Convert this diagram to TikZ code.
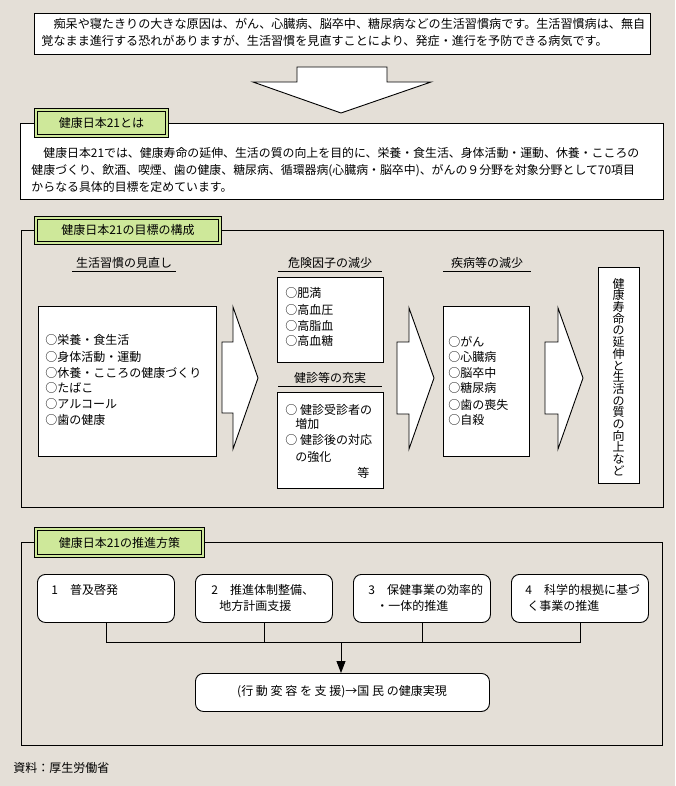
\documentclass[tikz,border=0pt]{standalone}
\usepackage{fontspec}
\setmainfont{Noto Sans CJK JP}
\usetikzlibrary{arrows.meta}
\definecolor{bg}{RGB}{228,223,215}
\definecolor{lbl}{RGB}{206,232,154}
\begin{document}
\begin{tikzpicture}[x=1pt,y=-1pt,line width=0.9pt,
  every node/.style={inner sep=0pt},
  jp/.style={font=\fontsize{12}{14}\selectfont},
  jpw/.style={font=\fontsize{12.1}{14}\selectfont},
  jps/.style={font=\fontsize{11.9}{14}\selectfont},
  tx/.style={jp, anchor=base west},
  txw/.style={jpw, anchor=base west},
  txs/.style={jps, anchor=base west},
  txc/.style={jp, anchor=base},
  wbox/.style={draw, fill=white, anchor=north west},
  obox/.style={draw, anchor=north west},
  lbox/.style={draw, fill=lbl, anchor=north west, jp},
  rbox/.style={draw, fill=white, rounded corners=8pt, anchor=north west},
  blk/.style={draw, fill=white, line join=miter},
  conn/.style={draw, line width=0.9pt},
  arr/.style={conn, -{Triangle[width=9pt,length=12pt]}}
]
\fill[bg] (0,0) rectangle (675,786);
\useasboundingbox (0,0) rectangle (675,786);

% ---------- top box ----------
\node[wbox, minimum width=616pt, minimum height=41pt] (top) at (34,13) {};
\node[txw] (top1) at (41,28.5) {　痴呆や寝たきりの大きな原因は、がん、心臓病、脳卒中、糖尿病などの生活習慣病です。生活習慣病は、無自};
\node[txw] (top2) at (41,45.5) {覚なまま進行する恐れがありますが、生活習慣を見直すことにより、発症・進行を予防できる病気です。};

% big down arrow
\draw[blk] (297,67) -- (387,67) -- (387,82) -- (431,82) -- (341,113) -- (253,82) -- (297,82) -- cycle;

% ---------- section 1 ----------
\node[wbox, minimum width=643pt, minimum height=76pt] (sec1) at (20,123) {};
\node[lbox, minimum width=134pt, minimum height=29pt] (lab1) at (34,108) {健康日本21とは};
\draw ([shift={(3,3)}]lab1.north west) rectangle ([shift={(-3,-3)}]lab1.south east);
\node[txs] (s1a) at (31,157.5) {　健康日本21では、健康寿命の延伸、生活の質の向上を目的に、栄養・食生活、身体活動・運動、休養・こころの};
\node[txs] (s1b) at (31,174.5) {健康づくり、飲酒、喫煙、歯の健康、糖尿病、循環器病(心臓病・脳卒中)、がんの９分野を対象分野として70項目};
\node[txs] (s1c) at (31,191.5) {からなる具体的目標を定めています。};

% ---------- section 2 ----------
\node[obox, minimum width=642pt, minimum height=277pt] (sec2) at (21,230) {};
\node[lbox, minimum width=187pt, minimum height=28pt] (lab2) at (34,216) {健康日本21の目標の構成};
\draw ([shift={(3,3)}]lab2.north west) rectangle ([shift={(-3,-3)}]lab2.south east);

% headers
\node[txc] (h1) at (124,267.5) {生活習慣の見直し};
\draw (72,271) -- (176,271);
\node[txc] (h2) at (330,267.5) {危険因子の減少};
\draw (278,271) -- (382,271);
\node[txc] (h3) at (487,267.5) {疾病等の減少};
\draw (443,271) -- (531,271);
\node[txc] (h4) at (330,382.5) {健診等の充実};
\draw (278,386) -- (382,386);

% box 1
\node[wbox, minimum width=178pt, minimum height=150pt] (b1) at (38,306) {};
\node[tx] (b1a) at (45,344.5) {○栄養・食生活};
\node[tx] (b1b) at (45,361.5) {○身体活動・運動};
\node[tx] (b1c) at (45,377.5) {○休養・こころの健康づくり};
\node[tx] (b1d) at (45,392.5) {○たばこ};
\node[tx] (b1e) at (45,408.5) {○アルコール};
\node[tx] (b1f) at (45,424.5) {○歯の健康};

% risk box
\node[wbox, minimum width=106pt, minimum height=85pt] (risk) at (277,277) {};
\node[tx] (ra) at (285,297.5) {○肥満};
\node[tx] (rb) at (285,314.5) {○高血圧};
\node[tx] (rc) at (285,330.5) {○高脂血};
\node[tx] (rd) at (285,345.5) {○高血糖};

% check box
\node[wbox, minimum width=106pt, minimum height=96pt] (chk) at (277,392) {};
\node[tx] (ca) at (285,414.5) {○ 健診受診者の};
\node[tx] (cb) at (295,428.5) {増加};
\node[tx] (cc) at (285,444.5) {○ 健診後の対応};
\node[tx] (cd) at (295,461.5) {の強化};
\node[tx] (ce) at (357,477.5) {等};

% disease box
\node[wbox, minimum width=86pt, minimum height=150pt] (dis) at (443,306) {};
\node[tx] (da) at (448,346.5) {○がん};
\node[tx] (db) at (448,361.5) {○心臓病};
\node[tx] (dc) at (448,377.5) {○脳卒中};
\node[tx] (dd) at (448,392.5) {○糖尿病};
\node[tx] (de) at (448,409.5) {○歯の喪失};
\node[tx] (df) at (448,424.5) {○自殺};

% final box
\node[wbox, minimum width=41pt, minimum height=216pt] (fin) at (598,267) {};
\node[align=center, font=\fontsize{12}{11.7}\selectfont] (fint) at (618.5,377) {健\\康\\寿\\命\\の\\延\\伸\\と\\生\\活\\の\\質\\の\\向\\上\\な\\ど};

% block arrows
\draw[blk] (222,342) -- (233,342) -- (233,307) -- (258,378) -- (233,449) -- (233,413) -- (222,413) -- cycle;
\draw[blk] (397,342) -- (409,342) -- (409,308) -- (434,378) -- (409,449) -- (409,414) -- (397,414) -- cycle;
\draw[blk] (545,342) -- (558,342) -- (558,308) -- (583,378) -- (558,449) -- (558,414) -- (545,414) -- cycle;

% ---------- section 3 ----------
\node[obox, minimum width=641pt, minimum height=203pt] (sec3) at (21,542) {};
\node[lbox, minimum width=170pt, minimum height=30pt] (lab3) at (34,527) {健康日本21の推進方策};
\draw ([shift={(3,3)}]lab3.north west) rectangle ([shift={(-3,-3)}]lab3.south east);

\node[rbox, minimum width=137pt, minimum height=48pt] (r1) at (37,574) {};
\node[rbox, minimum width=137pt, minimum height=48pt] (r2) at (195,574) {};
\node[rbox, minimum width=137pt, minimum height=48pt] (r3) at (353,574) {};
\node[rbox, minimum width=137pt, minimum height=48pt] (r4) at (511,574) {};
\node[tx] (r1a) at (51,594.5) {1　普及啓発};
\node[tx] (r2a) at (211,594.5) {2　推進体制整備、};
\node[tx] (r2b) at (219,610.5) {地方計画支援};
\node[tx] (r3a) at (368,594.5) {3　保健事業の効率的};
\node[tx] (r3b) at (376,610.5) {・一体的推進};
\node[tx] (r4a) at (525,594.5) {4　科学的根拠に基づ};
\node[tx] (r4b) at (527,610.5) {く事業の推進};

\node[rbox, minimum width=294pt, minimum height=38pt, jp] (bot) at (195,673) {};
\node[jp] (bott) at (342,692) {(行 動 変 容 を 支 援)→国 民 の健康実現};

\coordinate (j) at (341,642);
\draw[conn] (r1.south) -- (r1.south |- j) -- (r4.south |- j) -- (r4.south);
\draw[conn] (r2.south) -- (r2.south |- j);
\draw[conn] (r3.south) -- (r3.south |- j);
\draw[arr] (j) -- (j |- bot.north);

% source
\node[tx] (src) at (13,772.5) {資料：厚生労働省};
\end{tikzpicture}
\end{document}
